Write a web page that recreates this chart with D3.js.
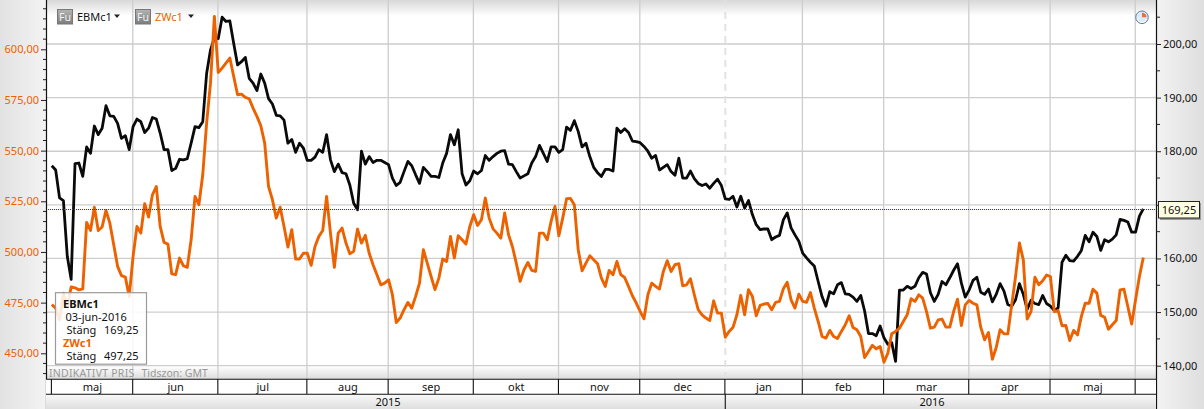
<!DOCTYPE html>
<html><head><meta charset="utf-8">
<script src="https://cdn.jsdelivr.net/npm/d3@7"></script>
<style>
html,body{margin:0;padding:0;background:#fff;overflow:hidden}
svg{display:block}
text{font-family:"Noto Sans",sans-serif;font-size:11px}
</style></head><body>
<svg id="c" width="1204" height="409"></svg>
<script>
const ebmValues=[177.3,176.5,171.3,170.8,160.4,156.1,177.7,177.8,175.3,180.8,179.6,184.7,183.1,184.3,188.5,186.6,186.5,185.2,182.4,182.9,180.3,184.6,186.0,185.5,183.5,184.3,186.3,186.0,183.4,180.3,180.3,176.4,176.8,178.5,178.4,178.6,181.5,184.6,184.4,185.5,194.5,198.9,201.1,201.0,205.0,204.2,204.3,200.1,196.1,196.7,197.5,193.6,192.7,191.3,194.4,192.7,189.8,188.8,186.7,186.6,185.8,181.5,182.2,179.8,181.5,180.6,178.3,178.3,178.9,180.3,179.8,183.1,178.4,176.2,177.6,176.0,175.8,173.7,170.3,169.1,180.0,177.6,179.0,177.9,178.3,178.3,177.9,177.5,175.0,173.6,174.2,176.2,178.1,177.3,175.6,174.0,177.0,176.2,175.3,175.3,175.1,177.8,179.6,183.1,181.2,184.0,175.8,173.7,174.5,176.3,175.8,176.4,179.2,178.3,179.0,179.6,180.0,180.1,177.6,177.5,176.2,175.0,175.4,175.8,177.8,179.0,181.1,179.6,178.1,180.8,180.8,179.8,180.3,184.5,183.9,185.7,183.7,180.8,181.5,179.0,177.0,176.0,175.3,176.6,176.6,176.3,184.3,183.5,184.2,183.5,181.9,181.8,181.6,180.9,180.0,178.7,179.2,176.5,177.0,177.5,176.2,175.5,178.7,175.0,175.0,176.3,174.9,174.0,173.6,173.9,173.1,174.0,174.8,173.6,171.1,171.0,171.6,169.6,171.6,169.4,170.8,168.2,166.3,165.4,165.5,165.5,163.5,164.0,164.3,167.2,168.5,165.7,164.4,163.2,161.0,160.1,159.3,158.6,155.7,152.9,151.1,153.8,153.4,155.1,155.5,153.4,153.3,152.8,152.0,153.1,150.2,146.0,146.0,145.6,147.4,145.2,144.0,144.3,140.8,154.1,154.1,154.8,154.4,154.8,156.4,157.4,157.1,153.6,152.0,153.3,155.7,155.1,156.4,157.8,159.0,155.4,152.8,154.1,155.9,156.5,153.7,153.3,154.3,151.9,153.3,155.3,153.9,151.4,151.1,152.3,155.3,153.3,150.5,152.2,151.6,151.4,153.1,151.6,151.1,150.3,150.8,159.3,160.6,159.6,159.5,160.4,161.5,164.3,163.1,164.9,164.1,161.5,163.5,163.1,163.6,164.4,167.3,167.1,166.8,164.9,164.9,167.9,169.25];
const zwValues=[474.0,472.3,466.5,479.7,472.8,482.7,482.3,481.3,481.8,514.6,510.6,522.1,510.6,512.3,520.5,514.2,503.6,492.9,488.3,487.6,478.1,497.8,512.6,509.3,523.8,517.2,528.2,532.3,512.6,504.7,503.9,489.2,488.8,497.0,493.2,492.4,506.0,527.4,523.3,538.1,563.6,583.3,616.2,588.6,590.7,593.2,595.7,586.6,577.6,577.9,576.3,575.6,571.0,566.9,562.3,553.7,532.3,525.8,516.7,522.1,512.6,502.4,511.0,496.5,496.5,499.4,499.4,493.4,502.7,507.7,510.6,527.4,509.3,492.4,509.3,511.8,504.4,499.1,500.3,511.3,504.4,508.2,499.4,493.7,488.8,483.8,484.6,486.3,478.9,465.2,467.4,471.5,475.1,472.3,478.1,484.6,501.1,494.5,487.9,481.4,487.1,496.6,495.3,507.7,497.0,508.0,506.0,503.9,512.6,518.4,513.1,515.9,526.6,516.7,511.4,509.3,506.8,519.2,508.5,502.7,494.5,485.5,491.2,494.8,490.9,490.4,509.3,509.3,506.0,515.1,522.5,508.0,516.7,526.3,526.4,523.3,501.1,490.7,494.5,498.1,496.2,494.2,487.1,483.0,490.9,488.8,495.3,488.8,487.4,483.0,478.4,474.8,470.7,467.0,478.9,484.6,483.0,481.7,490.4,495.7,490.4,493.7,494.2,483.3,483.8,486.8,478.9,471.5,469.0,467.4,466.2,475.9,469.8,469.8,458.0,460.8,462.8,469.0,478.6,469.0,481.4,478.1,468.5,473.6,474.3,474.6,471.5,475.1,475.6,481.8,485.0,476.4,472.3,479.2,475.6,475.2,480.0,472.3,465.7,458.3,457.5,461.3,458.3,457.3,460.8,464.1,468.5,462.7,461.6,458.3,447.9,450.9,453.9,452.2,453.4,445.6,450.1,459.6,460.8,462.4,465.7,469.0,476.9,475.6,478.9,477.2,470.6,462.4,462.9,466.5,466.9,462.9,462.9,470.6,476.7,463.7,473.9,476.1,474.7,473.9,462.9,456.7,460.3,447.1,452.9,461.6,459.6,459.6,473.9,487.9,504.4,496.1,466.9,470.6,487.6,483.8,485.8,488.6,487.9,470.6,471.1,463.6,463.7,456.3,461.3,459.1,468.2,474.7,474.7,481.6,479.7,468.7,467.8,461.9,464.1,466.2,481.3,481.6,473.1,464.4,476.4,487.9,497.25];
const monthLabels=["maj","jun","jul","aug","sep","okt","nov","dec","jan","feb","mar","apr","maj",""];
const monthStarts=[0,21,43,66,87,109,131,152,174,194,215,237,258,280];
const yearLabels=["2015","2016"];
const yearStarts=[0,174];
const lastClose=169.25;
const tooltipRows=[["EBMc1","b","#111"],["03-jun-2016","d","#111"],["Stäng","169,25","#111"],["ZWc1","b","#ec6200"],["Stäng","497,25","#111"]];

const W=1204,L=46,R=1156,pTop=0,pBot=379,mBot=394,H=409;
const svg=d3.select("#c");
const defs=svg.append("defs");
function grad(id,stops,vertical=true){
  const g=defs.append("linearGradient").attr("id",id).attr("x1",0).attr("y1",0).attr("x2",vertical?0:1).attr("y2",vertical?1:0);
  stops.forEach(([o,c])=>g.append("stop").attr("offset",o).attr("stop-color",c));
}
grad("gMargL",[[0,"#e2e2e2"],[1,"#f3f3f3"]],false);
grad("gMargR",[[0,"#f3f3f3"],[1,"#dedede"]],false);
grad("gTop",[[0,"#d8d8d8"],[1,"#ffffff"]]);
grad("gBot",[[0,"#ffffff"],[1,"#dcdcdc"]]);
grad("gYear",[[0,"#fafafa"],[1,"#dedede"]]);
grad("gFu",[[0,"#b4b4b4"],[1,"#7c7c7c"]]);

const x=d3.scaleLinear().domain([0,282]).range([51.8,1143.3]);
const yL=d3.scaleLinear().domain([450,600]).range([353.3,49.3]);
const yR=d3.scaleLinear().domain([140,200]).range([365.7,44]);
const fmt=v=>d3.format(".2f")(v).replace(".",",");

svg.append("rect").attr("x",0).attr("y",0).attr("width",L).attr("height",H).attr("fill","url(#gMargL)");
svg.append("rect").attr("x",R).attr("y",0).attr("width",W-R).attr("height",H).attr("fill","url(#gMargR)");
svg.append("rect").attr("x",L).attr("y",0).attr("width",R-L).attr("height",pBot).attr("fill","#fff");
svg.append("rect").attr("x",L).attr("y",0).attr("width",R-L).attr("height",16).attr("fill","url(#gTop)");
svg.append("rect").attr("x",L).attr("y",366).attr("width",R-L).attr("height",13).attr("fill","url(#gBot)");

// grid
const grid=svg.append("g").attr("stroke","#cdcdcd").attr("stroke-width",1.3);
grid.selectAll(".h").data(d3.range(140,201,10)).join("line")
  .attr("x1",L).attr("x2",R).attr("y1",d=>yR(d)).attr("y2",d=>yR(d));
grid.selectAll(".v").data(monthStarts.slice(1).filter(d=>d!==174)).join("line")
  .attr("x1",d=>x(d)-0.3).attr("x2",d=>x(d)-0.3).attr("y1",0).attr("y2",pBot);
svg.append("line").attr("x1",x(174)).attr("x2",x(174)).attr("y1",0).attr("y2",pBot)
  .attr("stroke","#e2e2e2").attr("stroke-width",2).attr("stroke-dasharray","7 5");

// series
const line=y=>d3.line().x((d,i)=>x(i)).y(d=>y(d)).curve(d3.curveLinear);
svg.append("path").datum(ebmValues).attr("d",line(yR)).attr("fill","none").attr("stroke","#0a0a0a").attr("stroke-width",2.8).attr("stroke-linejoin","round");
svg.append("path").datum(zwValues).attr("d",line(yL)).attr("fill","none").attr("stroke","#ec6200").attr("stroke-width",2.9).attr("stroke-linejoin","round");

// last-close line
svg.append("line").attr("x1",L).attr("x2",R).attr("y1",Math.round(yR(lastClose))+.5).attr("y2",Math.round(yR(lastClose))+.5)
  .attr("stroke","#cc0000").attr("stroke-width",1).attr("stroke-dasharray","1 1");

// axes
const axL=svg.append("g").attr("transform",`translate(${L},0)`);
axL.call(d3.axisLeft(yL).tickValues(d3.range(450,601,25)).tickFormat(fmt).tickSize(5).tickPadding(2));
axL.selectAll("text").attr("fill","#ec6200").style("font-size","11px");
axL.selectAll(".tick line").attr("stroke","#222");
axL.select(".domain").attr("d",`M0.5,0V${H}`).attr("stroke","#111").attr("stroke-width",1.2);
axL.selectAll(".minor").data(d3.range(440,621,5).filter(d=>d%25)).join("line").attr("class","minor")
  .attr("x1",-3).attr("x2",0).attr("y1",d=>yL(d)).attr("y2",d=>yL(d)).attr("stroke","#222");

const axR=svg.append("g").attr("transform",`translate(${R},0)`);
axR.call(d3.axisRight(yR).tickValues(d3.range(140,201,10)).tickFormat(d=>d===170?"":fmt(d)).tickSize(5).tickPadding(2));
axR.selectAll("text").attr("fill","#111").style("font-size","11px");
axR.selectAll(".tick line").attr("stroke","#222");
axR.select(".domain").attr("d",`M0.5,0V${H}`).attr("stroke","#111").attr("stroke-width",1.2);
axR.selectAll(".minor").data(d3.range(145,206,10)).join("line").attr("class","minor")
  .attr("x1",0).attr("x2",4).attr("y1",d=>yR(d)).attr("y2",d=>yR(d)).attr("stroke","#222");

// bottom strip text
svg.append("text").attr("x",49).attr("y",377).attr("fill","#999").style("font-size","10.5px").style("letter-spacing","0.25px").text("INDIKATIVT PRIS");
svg.append("text").attr("x",141.5).attr("y",377).attr("fill","#999").style("font-size","10.5px").text("Tidszon: GMT");

// month axis
svg.append("rect").attr("x",L).attr("y",pBot).attr("width",R-L).attr("height",mBot-pBot).attr("fill","#fff");
svg.append("rect").attr("x",L).attr("y",mBot).attr("width",R-L).attr("height",H-mBot).attr("fill","url(#gYear)");
const frame=svg.append("g").attr("stroke","#111").attr("stroke-width",1.1);
[pBot,mBot].forEach(y=>frame.append("line").attr("x1",L).attr("x2",R).attr("y1",y+.3).attr("y2",y+.3));
frame.selectAll(".mt").data(monthStarts).join("line").attr("x1",d=>x(d)-.4).attr("x2",d=>x(d)-.4).attr("y1",pBot).attr("y2",mBot);
frame.append("line").attr("x1",x(174)).attr("x2",x(174)).attr("y1",mBot).attr("y2",H);
const monthEdges=monthStarts.concat([(R-51.8)/(1143.3-51.8)*282]);
svg.selectAll(".ml").data(monthLabels).join("text").attr("class","ml")
  .attr("x",(d,i)=>x((monthEdges[i]+monthEdges[i+1])/2)).attr("y",391).attr("text-anchor","middle").attr("fill","#111").text(d=>d);
const yearCx=[388,932];
svg.selectAll(".yl").data(yearLabels).join("text").attr("class","yl")
  .attr("x",(d,i)=>yearCx[i]).attr("y",406).attr("text-anchor","middle").attr("fill","#111").text(d=>d);

// legend
function legend(xp,name,col,triX){
  svg.append("rect").attr("x",xp+.5).attr("y",9.5).attr("width",15).attr("height",14.5).attr("fill","url(#gFu)").attr("stroke","#777");
  svg.append("text").attr("x",xp+8).attr("y",20.5).attr("text-anchor","middle").attr("fill","#f2f2f2").style("font-size","10.5px").text("Fu");
  svg.append("text").attr("x",xp+20).attr("y",21).attr("fill",col).text(name);
  svg.append("path").attr("d",`M${triX},14.5h6l-3,3.5z`).attr("fill","#222");
}
legend(57,"EBMc1","#111",114);
legend(135,"ZWc1","#ec6200",188);

// clock icon
const ck=svg.append("g").attr("transform","translate(1142,17.3)");
ck.append("circle").attr("r",6.3).attr("fill","#dbeaf6").attr("stroke","#5f7fa5").attr("stroke-width",1);
ck.append("path").attr("d","M0,0V-4.6A4.6,4.6 0 0 1 4.6,0Z").attr("fill","#e8703a");
ck.append("path").attr("d","M-4,0A4,4 0 0 0 4,2").attr("fill","none").attr("stroke","#fff").attr("stroke-width",1);

// tooltip
const tt=svg.append("g");
tt.append("rect").attr("x",55.5).attr("y",292.7).attr("width",91).attr("height",71.5).attr("fill","#fff").attr("fill-opacity",.86).attr("stroke","#9a9a9a").attr("stroke-width",1.2);
tooltipRows.forEach((r,i)=>{
  const y=307.7+i*13.1;
  if(r[1]==="b") tt.append("text").attr("x",63).attr("y",y).attr("fill",r[2]).style("font-weight","700").text(r[0]);
  else if(r[1]==="d") tt.append("text").attr("x",65.5).attr("y",y).attr("fill",r[2]).text(r[0]);
  else {
    tt.append("text").attr("x",66.5).attr("y",y).attr("fill",r[2]).text(r[0]);
    tt.append("text").attr("x",138.5).attr("y",y).attr("text-anchor","end").attr("fill",r[2]).text(r[1]);
  }
});

// last value flag
const fl=svg.append("g");
fl.append("rect").attr("x",1160).attr("y",203).attr("width",41).attr("height",17).attr("fill","#999");
fl.append("rect").attr("x",1158.5).attr("y",201.5).attr("width",41).attr("height",16.5).attr("fill","#ffffe1").attr("stroke","#222");
fl.append("text").attr("x",1179).attr("y",213.5).attr("text-anchor","middle").attr("fill","#111").text(fmt(lastClose));
</script></body></html>
